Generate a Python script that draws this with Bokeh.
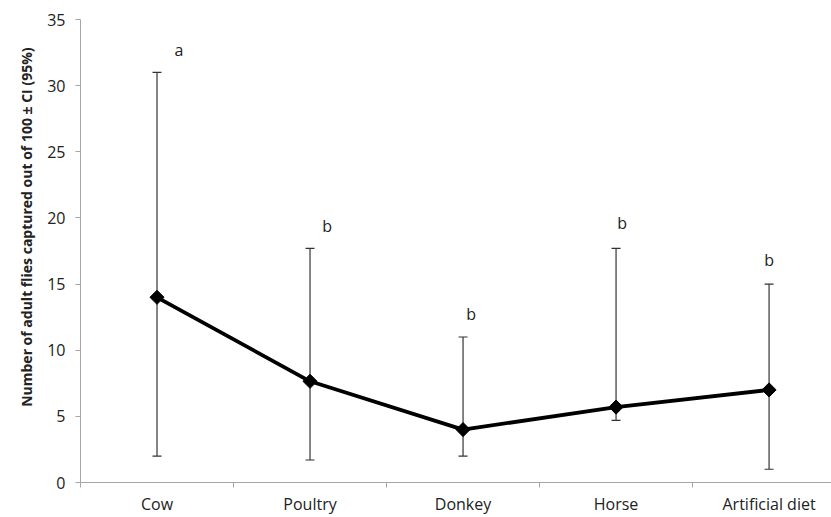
import numpy as np
from bokeh.plotting import figure
from bokeh.models import ColumnDataSource, FixedTicker, Whisker, TeeHead, Range1d, Title
from bokeh.core.properties import value
from bokeh.embed import file_html
from bokeh.resources import INLINE

categories = ["Cow", "Poultry", "Donkey", "Horse", "Artificial diet"]
means = [14.0, 7.65, 4.0, 5.7, 7.0]
ci_lower = [2.0, 1.7, 2.0, 4.7, 1.0]
ci_upper = [31.0, 17.7, 11.0, 17.7, 15.0]
letters = ["a", "b", "b", "b", "b"]
letter_y = [32.7, 19.4, 12.7, 19.6, 16.8]
letter_dx = [22, 17, 8, 6, 0]
y_ticks = [0, 5, 10, 15, 20, 25, 30, 35]
y_title = "Number of adult flies captured out of 100 ± CI (95%)"

xs = list(range(len(categories)))
src = ColumnDataSource(dict(x=xs, y=means, lo=ci_lower, hi=ci_upper,
                            lab=letters, ly=letter_y, dx=letter_dx))

FONT = "Open Sans"

p = figure(width=831, height=517, output_backend="svg", toolbar_location=None,
           x_range=Range1d(-0.5, 4.408), y_range=Range1d(0, 35),
           min_border_left=80, min_border_top=19, min_border_right=0, min_border_bottom=10)
p.outline_line_color = None
p.grid.visible = False
p.background_fill_color = "white"

# error bars
wh = Whisker(source=src, base="x", lower="lo", upper="hi", dimension="height",
             line_color="#333333", line_width=1.2, level="underlay",
             upper_head=TeeHead(size=9, line_color="#333333", line_width=1.2),
             lower_head=TeeHead(size=9, line_color="#333333", line_width=1.2))
p.add_layout(wh)

p.line("x", "y", source=src, line_color="black", line_width=3.8)
p.scatter("x", "y", source=src, marker="square", angle=np.pi / 4, size=10,
          fill_color="black", line_color="black")

p.text("x", "ly", text="lab", source=src, x_offset="dx", text_align="center",
       text_baseline="middle", text_font=value(FONT), text_font_size="16px",
       text_color="#222222")

# y-axis title as a side title (sits a bit above centre like the original)
title = Title(text=y_title, align="right", offset=28, standoff=18,
              text_font=FONT, text_font_size="14px", text_font_style="bold",
              text_color="#222222")
p.add_layout(title, "left")

# axes
ax_col = "#a6a6a6"
p.yaxis.ticker = FixedTicker(ticks=y_ticks)
p.yaxis.axis_line_color = ax_col
p.yaxis.major_tick_line_color = ax_col
p.yaxis.major_tick_out = 5
p.yaxis.major_tick_in = 0
p.yaxis.minor_tick_line_color = None
p.yaxis.major_label_text_font = FONT
p.yaxis.major_label_text_font_size = "16px"
p.yaxis.major_label_text_color = "#222222"
p.yaxis.major_label_standoff = 10

bounds = [i - 0.5 for i in range(len(categories) + 1)]
p.xaxis.ticker = FixedTicker(ticks=xs, minor_ticks=bounds)
p.xaxis.major_label_overrides = {i: c for i, c in enumerate(categories)}
p.xaxis.axis_line_color = ax_col
p.xaxis.major_tick_line_color = None
p.xaxis.major_tick_out = 0
p.xaxis.major_tick_in = 0
p.xaxis.minor_tick_line_color = ax_col
p.xaxis.minor_tick_out = 5
p.xaxis.minor_tick_in = 0
p.xaxis.major_label_text_font = FONT
p.xaxis.major_label_text_font_size = "16px"
p.xaxis.major_label_text_color = "#222222"
p.xaxis.major_label_standoff = 5

open("out.html", "w").write(file_html(p, INLINE))
